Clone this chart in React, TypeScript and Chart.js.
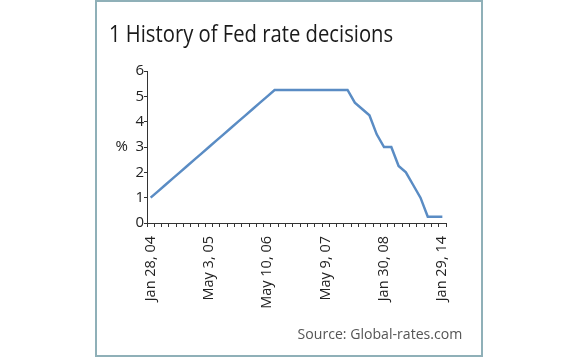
import React, { useEffect, useRef } from "react";
import { Chart, registerables } from "chart.js";

Chart.register(...registerables);

const meetingDates: string[] = [
  "Jan 28, 04", "Jun 30, 04", "Aug 10, 04", "Sep 21, 04", "Nov 10, 04", "Dec 14, 04",
  "Feb 2, 05", "Mar 22, 05", "May 3, 05", "Jun 30, 05", "Aug 9, 05", "Sep 20, 05",
  "Nov 1, 05", "Dec 13, 05", "Jan 31, 06", "Mar 28, 06", "May 10, 06", "Jun 29, 06",
  "Aug 8, 06", "Sep 20, 06", "Oct 25, 06", "Dec 12, 06", "Jan 31, 07", "Mar 21, 07",
  "May 9, 07", "Jun 28, 07", "Aug 7, 07", "Aug 17, 07", "Sep 18, 07", "Oct 31, 07",
  "Dec 11, 07", "Jan 22, 08", "Jan 30, 08", "Mar 10, 08", "Mar 18, 08", "Apr 30, 08",
  "Oct 8, 08", "Oct 29, 08", "Dec 16, 08", "Dec 18, 13", "Jan 29, 14",
];

const fedRate: number[] = [
  1.0, 1.25, 1.5, 1.75, 2.0, 2.25,
  2.5, 2.75, 3.0, 3.25, 3.5, 3.75,
  4.0, 4.25, 4.5, 4.75, 5.0, 5.25,
  5.25, 5.25, 5.25, 5.25, 5.25, 5.25,
  5.25, 5.25, 5.25, 5.25, 4.75, 4.5,
  4.25, 3.5, 3.0, 3.0, 2.25, 2.0,
  1.5, 1.0, 0.25, 0.25, 0.25,
];

const shownLabels: string[] = ["Jan 28, 04", "May 3, 05", "May 10, 06", "May 9, 07", "Jan 30, 08", "Jan 29, 14"];
const yTicks: number[] = [0, 1, 2, 3, 4, 5, 6];

const FONT = "'Open Sans', 'Noto Sans', sans-serif";
const AXIS_COLOR = "#333333";

export default function App() {
  const canvasRef = useRef<HTMLCanvasElement | null>(null);

  useEffect(() => {
    const canvas = canvasRef.current;
    if (!canvas) return;

    const percentPlugin = {
      id: "percentLabel",
      afterDraw(chart: any) {
        const y = chart.scales.y;
        const ctx = chart.ctx;
        ctx.save();
        ctx.fillStyle = "#222222";
        ctx.font = `15px ${FONT}`;
        ctx.textAlign = "right";
        ctx.textBaseline = "middle";
        ctx.fillText("%", chart.chartArea.left - 19, y.getPixelForValue(3));
        ctx.restore();
      },
    };

    const chart = new Chart(canvas, {
      type: "line",
      data: {
        labels: meetingDates,
        datasets: [
          {
            data: fedRate,
            borderColor: "#5a8cc4",
            borderWidth: 2.5,
            pointRadius: 0,
            tension: 0,
            fill: false,
          },
        ],
      },
      options: {
        animation: false,
        responsive: false,
        maintainAspectRatio: false,
        layout: { padding: { left: 100, right: 134, top: 71, bottom: 40 } },
        plugins: {
          legend: { display: false },
          tooltip: { enabled: false },
          title: { display: false },
        },
        scales: {
          x: {
            type: "category",
            offset: true,
            border: { display: true, color: AXIS_COLOR, width: 1 },
            grid: {
              offset: true,
              drawOnChartArea: false,
              drawTicks: true,
              tickLength: 4,
              color: AXIS_COLOR,
            },
            ticks: {
              autoSkip: false,
              maxRotation: 90,
              minRotation: 90,
              padding: 9,
              color: "#222222",
              font: { family: FONT, size: 14.5 },
              callback: (_v: any, i: number) =>
                shownLabels.includes(meetingDates[i]) ? meetingDates[i] : "",
            },
            afterFit: (scale: any) => {
              scale.height = 95;
            },
          },
          y: {
            min: 0,
            max: 6,
            border: { display: true, color: AXIS_COLOR, width: 1 },
            grid: {
              drawOnChartArea: false,
              drawTicks: true,
              tickLength: 3,
              color: AXIS_COLOR,
            },
            afterBuildTicks: (scale: any) => {
              scale.ticks = yTicks.map((v) => ({ value: v }));
            },
            ticks: {
              padding: 0,
              color: "#222222",
              font: { family: FONT, size: 15 },
            },
            afterFit: (scale: any) => {
              scale.width = 47;
            },
          },
        },
      },
      plugins: [percentPlugin],
    });

    return () => chart.destroy();
  }, []);

  return (
    <div style={{ position: "absolute", left: 0, top: 0, width: 580, height: 358, background: "#ffffff", overflow: "hidden" }}>
      <div
        style={{
          position: "absolute",
          left: 95,
          top: 0,
          width: 384,
          height: 353,
          border: "2px solid #8fb0b8",
        }}
      />
      <canvas ref={canvasRef} width={580} height={358} style={{ position: "absolute", left: 0, top: 0, width: 580, height: 358 }} />
      <div
        style={{
          position: "absolute",
          left: 109,
          top: 17,
          fontFamily: FONT,
          fontSize: 23,
          color: "#1a1a1a",
          whiteSpace: "nowrap",
          lineHeight: "32px",
          transform: "scaleX(0.88)",
          transformOrigin: "left center",
        }}
      >
        1 History of Fed rate decisions
      </div>
      <div
        style={{
          position: "absolute",
          right: 118,
          top: 322,
          fontFamily: FONT,
          fontSize: 15,
          color: "#555555",
          whiteSpace: "nowrap",
          lineHeight: "22px",
          transform: "scaleX(0.94)",
          transformOrigin: "right center",
        }}
      >
        Source: Global-rates.com
      </div>
    </div>
  );
}
